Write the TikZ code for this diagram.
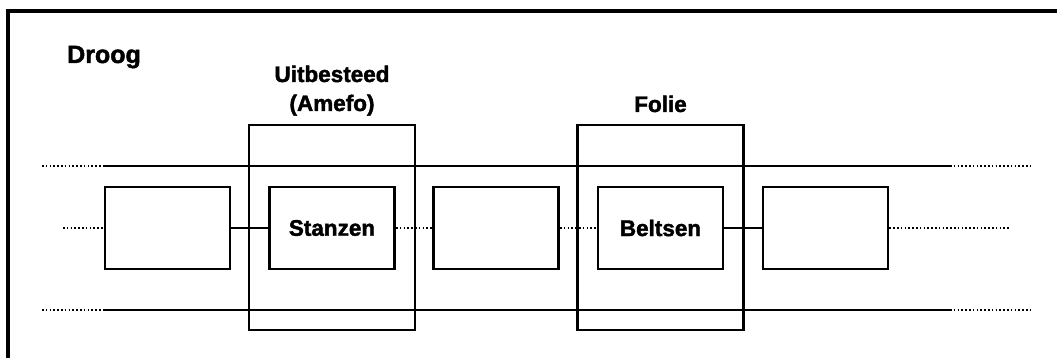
\documentclass[tikz,border=0pt]{standalone}
\usepackage{fontspec}
\setmainfont{Liberation Sans}[BoldFeatures={FakeBold=1.8}]
\usepackage{tikz}

\tikzset{
  stap/.style={draw, fill=white, line width=2.8pt, minimum width=125pt,
    minimum height=82pt, inner sep=0pt,
    font=\bfseries\fontsize{22.5}{24}\selectfont},
  groep/.style={draw, line width=2.8pt, minimum width=166pt,
    minimum height=205pt, inner sep=0pt},
  kop/.style={font=\bfseries\fontsize{22.5}{29}\selectfont, align=center,
    inner sep=0pt},
  lijn/.style={line width=2.8pt},
  stippel/.style={line width=2.4pt, dash pattern=on 1.6pt off 2.2pt}
}

\begin{document}
\begin{tikzpicture}[x=1pt, y=-1pt]

\useasboundingbox (0,0) rectangle (1057,358);


% frame
\draw[line width=3.2pt] (8,358) -- (8,11) -- (1057,11);

\path 
(67,63) node [kop, anchor=base west, font=\bfseries\fontsize{25}{29}\selectfont] (droog) {Droog};




% outsourced and foil groups
\node[groep] (amefo) at (332,227.5) {};
\node[kop, anchor=base] (uitbesteed) at (332,111) {Uitbesteed\\(Amefo)};

\node[groep] (folie) at (660.5,227.5) {};
\path 
(660.5,112) node [kop, anchor=base] (folietekst) {Folie};



% top and bottom rails
\coordinate (boven1) at (42,166);
\coordinate (boven2) at (104,166);
\coordinate (boven3) at (950,166);
\coordinate (boven4) at (1032,166);

\draw[stippel] (boven1) -- (boven2);
\draw[lijn] (boven2) -- (boven3);
\draw[stippel] (boven3) -- (boven4);

\coordinate (onder1) at (42,310);
\coordinate (onder2) at (104,310);
\coordinate (onder3) at (950,310);
\coordinate (onder4) at (1032,310);

\draw[stippel] (onder1) -- (onder2);
\draw[lijn] (onder2) -- (onder3);
\draw[stippel] (onder3) -- (onder4);



% process steps
\node[stap] (stap1) at (167.5,228) {};
\node[stap] (stanzen) at (332,228) {Stanzen};
\node[stap] (stap3) at (496,228) {};
\node[stap] (beltsen) at (660.5,228) {Beltsen};
\node[stap] (stap5) at (825.5,228) {};

\coordinate (in) at (63,228);
\coordinate (uit) at (1010,228);

\draw[stippel] (in) -- (stap1.west);
\draw[lijn] (stap1.east) -- (stanzen.west);
\draw[stippel] (stanzen.east) -- (stap3.west);
\draw[stippel] (stap3.east) -- (beltsen.west);
\draw[lijn] (beltsen.east) -- (stap5.west);
\draw[stippel] (stap5.east) -- (uit);


\end{tikzpicture}
\end{document}
